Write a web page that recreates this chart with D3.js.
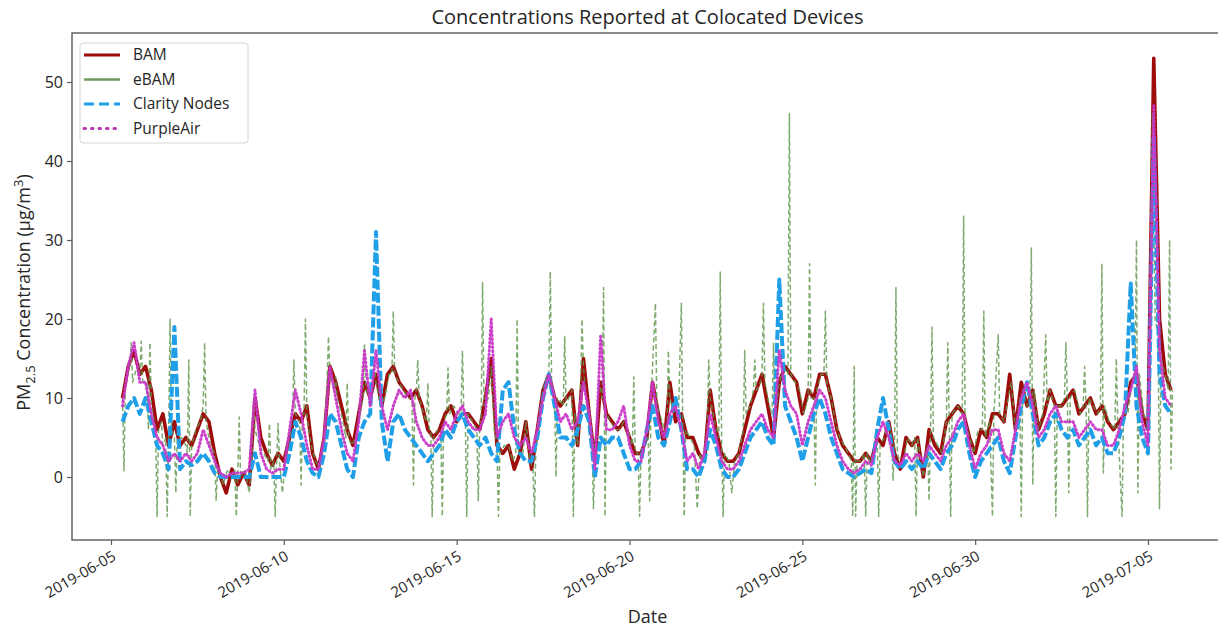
<!DOCTYPE html>
<html>
<head>
<meta charset="utf-8">
<script src="https://cdn.jsdelivr.net/npm/d3@7"></script>
<style>
  body { margin: 0; background: #fff; }
  svg text { font-family: "Open Sans", "DejaVu Sans", sans-serif; fill: #262626; }
</style>
</head>
<body>
<script>
// DATA
const seriesNames = ["BAM", "eBAM", "Clarity Nodes", "PurpleAir"];
const xTickLabels = ["2019-06-05", "2019-06-10", "2019-06-15", "2019-06-20", "2019-06-25", "2019-06-30", "2019-07-05"];
const yTickValues = [0, 10, 20, 30, 40, 50];

// 4-hourly readings starting 2019-06-05 08:00
const bam = [
  10, 14, 16, 13,
  14, 11, 6, 8, 4, 7,
  4, 5, 4, 6, 8, 7,
  3, 0, -2, 1, -1, 0.5,
  -1, 10, 5, 3, 1.5, 3,
  2, 5, 8, 7, 9, 3,
  1, 5, 14, 12, 9, 6,
  4, 8, 12, 10, 13, 9,
  13, 14, 12, 11, 10, 11,
  9, 6, 5, 6, 8, 9,
  7, 8, 8, 7, 6, 10,
  15, 4, 3, 4, 1, 3,
  7, 1, 6, 11, 13, 10,
  9, 10, 11, 4, 15, 8,
  2, 12, 8, 7, 6, 7,
  5, 3, 3, 5, 12, 8,
  4, 12, 7, 8, 5, 5,
  3, 2, 11, 6, 3, 2,
  2, 3, 6, 9, 11, 13,
  9, 5, 12, 14, 13, 12,
  8, 11, 10, 13, 13, 10,
  6, 4, 3, 2, 2, 3,
  2, 5, 4, 7, 3, 1,
  5, 4, 5, 0, 6, 4,
  3, 7, 8, 9, 8, 5,
  3, 6, 5, 8, 8, 7,
  13, 6, 12, 9, 11, 6,
  8, 11, 9, 9, 10, 11,
  8, 9, 10, 8, 9, 7,
  6, 7, 8, 12, 13, 8,
  6, 53, 20, 13, 11
];
const clarity = [
  7, 9, 10, 8,
  10, 7, 4, 3, 1, 19,
  1, 2, 1.5, 2, 3, 2,
  0.5, 0, 0, 0, 0, 0,
  0, 3, 0, 0, 0, 0,
  0, 3, 7, 5, 2, 0.5,
  0, 3, 8, 7, 4, 1,
  0, 5, 7, 8, 31, 7,
  2, 7, 8, 6, 5, 4,
  3, 2, 3, 4, 6, 5,
  7, 8, 6, 5, 4, 5,
  3, 2, 11, 12, 6, 3,
  2, 2, 5, 10, 13, 9,
  5, 5, 4, 6, 9, 7,
  0, 5, 4, 5, 5, 3,
  1, 1, 2, 6, 9, 5,
  4, 7, 10, 6, 1, 1,
  0, 2, 6, 4, 1, 0,
  0, 1, 3, 5, 6, 7,
  5, 4, 25, 9, 7, 5,
  2, 5, 8, 10, 8, 5,
  3, 1, 0.5, 0, 0.5, 1,
  0.5, 6, 10, 6, 2, 1,
  2, 1, 2, 1, 3, 2,
  1, 3, 4, 6, 7, 3,
  0, 2, 3, 4, 5, 2,
  0.5, 5, 9, 12, 8, 4,
  5, 7, 8, 6, 5, 6,
  4, 5, 6, 4, 5, 3,
  3, 5, 8, 24.5, 9, 5,
  3, 43, 13, 9, 8
];
const purpleAir = [
  9, 14, 17, 12,
  12, 8, 5, 4, 2, 3,
  2, 3, 2, 3, 6, 4,
  2, 0.5, 0, 0.5, 0.5, 0.5,
  1, 11, 3, 1, 0.5, 1,
  1, 6, 11, 8, 4, 1,
  1, 5, 14, 10, 6, 3,
  2, 7, 16, 9, 16, 9,
  6, 9, 11, 10, 11, 7,
  5, 4, 4, 5, 7, 6,
  8, 9, 7, 6, 6, 8,
  20, 5, 7, 8, 5, 4,
  5, 3, 6, 10, 13, 10,
  7, 8, 6, 7, 12, 8,
  1, 18, 6, 6, 7, 9,
  4, 2, 2, 6, 12, 7,
  5, 8, 9, 6, 2, 3,
  1, 3, 8, 5, 2, 1,
  1, 2, 4, 6, 7, 8,
  6, 5, 16, 11, 9, 8,
  4, 7, 9, 11, 10, 7,
  4, 2, 1, 0.5, 1, 2,
  1.5, 5, 7, 5, 2, 1.5,
  3, 2, 3, 2, 4, 3,
  2, 4, 5, 7, 8, 4,
  1, 3, 4, 6, 6, 3,
  2, 6, 10, 12, 9, 5,
  6, 8, 9, 7, 7, 7,
  5, 6, 7, 6, 6, 4,
  4, 6, 9, 11, 14, 7,
  4, 47, 16, 10, 9
];
// eBAM readings as [hours since 2019-06-05 00:00, value]
const ebam = [
  [8,10],[9,0.8],[10,12],[13,14],[14,17],[15,12],[18,14],[20,13],[21,17.2],[22,12],
  [25,12],[26,6],[27,17],[28,9],[31,6],[32,-5],[33,6],[35,7],[36,4],[38,5],[39,-5],[40,5],[41,20],[42,6],[44,5],[45,-2],[46,5],
  [49,5],[52,4],[53,3],[54,14.8],[55,-5],[56,4],[59,6],[62,7],[64,9],[65,17],[66,7],[69,4],
  [72,3],[73,-3],[74,1],[78,-1],[81,1],[84,0],[86,1],[87,-5],[88,0],[89,7.6],[90,0],[93,1],
  [96,-2],[98,3],[99,10],[100,6],[103,4],[106,3],[109,2],[110,6.8],[111,1],[113,2],[114,-5],[115,2],[116,6.8],[117,2],[119,-2],
  [121,2],[124,5],[126,8],[127,14.8],[128,8],[131,7],[132,-1],[133,8],[134,8],[135,20],[136,8],[139,4],[142,2],
  [145,1],[148,5],[150,12],[151,17.8],[152,13],[155,11],[156,12.7],[157,10],[160,8],[163,5],[164,11.9],[165,5],[167,4],
  [170,5],[173,8],[175,10],[176,16.7],[177,11],[180,10],[182,12],[183,14],[184,12],[187,9],[190,10],
  [193,13],[195,13],[196,21],[197,13],[200,12],[203,11],[206,10],[209,10],[210,-1],[211,10],[212,11],[213,14.8],[214,10],
  [217,8],[219,7],[220,11.9],[221,6],[222,6],[223,-5],[224,5],[227,6],[229,6],[230,-5],[231,7],[233,8],[234,13.8],[235,8],[238,9],
  [241,8],[243,8],[244,16],[245,8],[246,8],[247,-5],[248,8],[251,7],[254,6],[255,-3],[256,7],[257,7],[258,24.6],[259,9],[262,10],
  [264,14],[266,6],[268,4],[269,-5],[270,3],[273,4],[276,4],[279,2],[281,3],[282,20],[283,3],[286,3],
  [288,7],[291,2],[293,1],[294,-5],[295,4],[297,6],[300,11],[303,13],[304,13],[305,26],[306,11],[308,10],[309,0],[310,10],[311,10],
  [314,9],[315,17.8],[316,9],[318,10],[320,11],[321,-5],[322,8],[324,4],[326,10],[327,20],[328,14],[331,8],[334,4],[335,-4],
  [336,4],[339,12],[341,10],[342,24],[343,-5],[344,8],[347,7],[350,6],[353,6],[356,7],[359,6],
  [362,4],[363,12.7],[364,3],[366,3],[367,-5],[368,3],[371,4],[373,5],[374,-3],[375,10],[378,22],[379,9],[381,8],
  [386,5],[387,16],[388,10],[391,8],[394,8],[396,22],[397,6],[398,-5],[399,6],[402,5],[405,4],[407,-4],
  [409,3],[411,2],[414,6],[415,14.8],[416,10],[419,7],[422,5],[423,26],[424,4],[425,-5],[426,3],[429,2],[431,-2],
  [433,2],[436,3],[439,6],[440,16],[441,8],[444,9],[446,11],[447,14.8],[448,11],[451,12],[452,13],[453,22],[454,12],
  [457,9],[459,8],[460,17],[461,7],[464,12],[467,14],[470,13],[471,46],[472,13],[475,12],[478,11],
  [481,8],[484,10],[485,27],[486,10],[488,10],[489,-1],[490,11],[493,13],[495,13],[496,21],[497,12],[500,10],[503,7],
  [506,5],[509,4],[512,3],[514,2],[515,-5],[516,14],[517,-5],[518,2],[521,2],[523,3],[524,-5],[525,3],[527,2],
  [530,3],[532,5],[533,-5],[534,4],[537,5],[540,7],[542,5],[543,-0.4],[544,4],[545,24],[546,3],[549,1],
  [553,5],[556,4],[558,5],[559,-5],[560,5],[564,0],[567,4],[568,-3],[569,6],[570,19],[571,5],[574,4],
  [577,3],[580,7],[581,17],[582,7],[583,-5],[584,8],[588,9],[591,8],[592,33],[593,7],[596,5],[599,3],
  [602,6],[605,6],[606,21],[607,5],[610,7],[612,-5],[613,8],[616,18],[617,8],[620,7],[623,10],
  [625,12],[628,6],[631,10],[632,-5],[633,11],[636,9],[638,10],[639,29],[640,-1],[641,11],[644,6],[647,8],
  [649,18],[650,9],[652,11],[655,9],[656,-5],[657,9],[660,9],[662,10],[663,17],[664,10],[665,-2],[666,10],[669,11],
  [673,8],[675,9],[676,14],[677,9],[678,-5],[679,10],[682,9],[685,8],[687,9],[688,27],[689,0.5],[690,9],[693,7],
  [697,6],[698,15],[699,7],[702,-5],[703,8],[706,8],[709,12],[711,13],[712,30],[713,-2],[714,13],[717,8],
  [721,6],[723,46],[725,20],[727,18],[728,-4],[729,15],[732,13],[734,11],[735,30],[736,1],[737,11]
];

// D3
const W = 1218, H = 632;
const plot = {left: 72, top: 33, right: 1223, bottom: 540};

const svg = d3.select("body").append("svg")
    .attr("width", W).attr("height", H)
    .style("overflow", "hidden");

const parseDay = d3.timeParse("%Y-%m-%d");
const tickDates = xTickLabels.map(parseDay);

// time scale pinned to the tick positions
const xScale = d3.scaleTime()
    .domain([tickDates[0], tickDates[tickDates.length - 1]])
    .range([111, 1148]);

const yScale = d3.scaleLinear()
    .domain([-7.97, 56.2])
    .range([plot.bottom, plot.top]);

const day0 = new Date(2019, 5, 5, 0);
const toPoints = (vals, firstHour, step) =>
    vals.map((v, i) => ({t: d3.timeHour.offset(day0, firstHour + i * step), v: v}));

const series = [
  {name: seriesNames[0], pts: toPoints(bam, 8, 4), color: "#9e0b0b", width: 3.6, dash: null, opacity: 1, cap: "butt"},
  {name: seriesNames[1], pts: ebam.map(d => ({t: d3.timeHour.offset(day0, d[0]), v: d[1]})),
      color: "#5e954a", width: 1.5, dash: "5,3", opacity: 0.8, cap: "butt"},
  {name: seriesNames[2], pts: toPoints(clarity, 8, 4), color: "#1e9fe8", width: 4, dash: "10,3", opacity: 1, cap: "butt"},
  {name: seriesNames[3], pts: toPoints(purpleAir, 8, 4), color: "#c938c8", width: 3, dash: "1,3", opacity: 0.95, cap: "round"}
];

svg.append("clipPath").attr("id", "plotClip")
  .append("rect")
    .attr("x", plot.left).attr("y", plot.top)
    .attr("width", plot.right - plot.left)
    .attr("height", plot.bottom - plot.top);

const line = d3.line()
    .x(d => xScale(d.t))
    .y(d => yScale(d.v));

const linesGrp = svg.append("g").attr("clip-path", "url(#plotClip)");
series.forEach(s => {
  linesGrp.append("path")
      .datum(s.pts)
      .attr("d", line)
      .attr("fill", "none")
      .attr("stroke", s.color)
      .attr("stroke-width", s.width)
      .attr("stroke-dasharray", s.dash)
      .attr("stroke-linecap", s.cap)
      .attr("stroke-linejoin", "round")
      .attr("opacity", s.opacity);
});

// frame
svg.append("rect")
    .attr("x", plot.left).attr("y", plot.top)
    .attr("width", plot.right - plot.left)
    .attr("height", plot.bottom - plot.top)
    .attr("fill", "none")
    .attr("stroke", "#5a5a5a")
    .attr("stroke-width", 1.4);

// y axis
const yAxis = svg.append("g")
    .attr("transform", "translate(" + plot.left + ",0)")
    .call(d3.axisLeft(yScale).tickValues(yTickValues).tickSize(5).tickPadding(4));
yAxis.select(".domain").remove();
yAxis.selectAll("line").attr("stroke", "#5a5a5a").attr("stroke-width", 1.2);
yAxis.selectAll("text").style("font-size", "16px").attr("fill", "#262626");

// x axis
const xAxis = svg.append("g")
    .attr("transform", "translate(0," + plot.bottom + ")")
    .call(d3.axisBottom(xScale).tickValues(tickDates)
        .tickFormat((d, i) => xTickLabels[i]).tickSize(5));
xAxis.select(".domain").remove();
xAxis.selectAll("line").attr("stroke", "#5a5a5a").attr("stroke-width", 1.2);
xAxis.selectAll("text")
    .style("font-size", "15px")
    .attr("fill", "#262626")
    .attr("text-anchor", "end")
    .attr("x", 0).attr("y", 10)
    .attr("dy", "0.71em")
    .attr("transform", "rotate(-30 0 10)");

// titles
svg.append("text")
    .attr("x", (plot.left + plot.right) / 2).attr("y", 24)
    .attr("text-anchor", "middle")
    .style("font-size", "20px")
    .text("Concentrations Reported at Colocated Devices");

svg.append("text")
    .attr("x", (plot.left + plot.right) / 2).attr("y", 623)
    .attr("text-anchor", "middle")
    .style("font-size", "18px")
    .text("Date");

const yLab = svg.append("text")
    .attr("transform", "translate(30," + ((plot.top + plot.bottom) / 2 + 6) + ") rotate(-90)")
    .attr("text-anchor", "middle")
    .style("font-size", "18px");
yLab.append("tspan").text("PM");
yLab.append("tspan").attr("dy", 5).style("font-size", "13px").text("2.5");
yLab.append("tspan").attr("dy", -5).text(" Concentration (\u03bcg/m");
yLab.append("tspan").attr("dy", -7).style("font-size", "13px").text("3");
yLab.append("tspan").attr("dy", 7).text(")");

// legend
const legend = svg.append("g").attr("transform", "translate(80,43)");
legend.append("rect")
    .attr("width", 168).attr("height", 100)
    .attr("rx", 3)
    .attr("fill", "#fff").attr("fill-opacity", 0.85)
    .attr("stroke", "#d6d6d6");
const legendStyle = [
  {dash: null, width: 3.2, color: "#9e0b0b", cap: "butt"},
  {dash: null, width: 2.6, color: "#6f9a5c", cap: "butt"},
  {dash: "10,5", width: 3.2, color: "#1e9fe8", cap: "butt"},
  {dash: "1.5,6", width: 3, color: "#b43cb4", cap: "round"}
];
seriesNames.forEach((name, i) => {
  const row = legend.append("g").attr("transform", "translate(0," + (12 + i * 24.5) + ")");
  row.append("line")
      .attr("x1", 4).attr("x2", 40)
      .attr("stroke", legendStyle[i].color)
      .attr("stroke-width", legendStyle[i].width)
      .attr("stroke-dasharray", legendStyle[i].dash)
      .attr("stroke-linecap", legendStyle[i].cap);
  row.append("text")
      .attr("x", 53).attr("dy", "0.35em")
      .style("font-size", "15.5px")
      .text(name);
});
</script>
</body>
</html>
